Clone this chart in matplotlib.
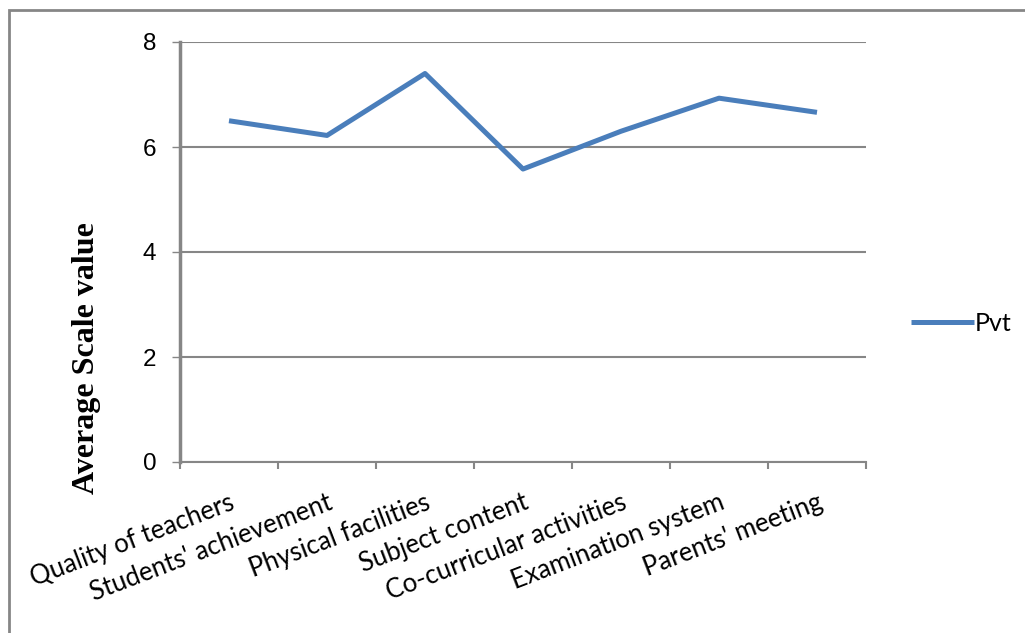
"""
Average scale value by school aspect, private schools (Pvt)
"""
import matplotlib
matplotlib.use("Agg")
import matplotlib.pyplot as plt
from matplotlib.patches import Rectangle


# Data
aspects = ["Quality of teachers", "Students' achievement", "Physical facilities",
           "Subject content", "Co-curricular activities", "Examination system",
           "Parents' meeting"]
pvt = [6.50, 6.22, 7.40, 5.58, 6.30, 6.93, 6.66]
y_ticks = [0, 2, 4, 6, 8]

# Settings
grey = "#868686"
blue = "#4a7ebb"


def plot_chart():
    fig = plt.figure(figsize=(10.25, 6.33), dpi=100)
    ax = fig.add_axes([180 / 1025, 171 / 633, 686 / 1025, 420 / 633])

    x = list(range(len(aspects)))
    ax.plot(x, pvt, color=blue, lw=3.6, solid_capstyle="butt", label="Pvt", zorder=3)

    # Axes and grid
    ax.set_xlim(-0.5, len(aspects) - 0.5)
    ax.set_ylim(0, 8)
    ax.set_yticks(y_ticks)
    ax.set_yticklabels([str(t) for t in y_ticks], fontsize=17.5, family="Liberation Sans")
    ax.yaxis.grid(True, color=grey, lw=1.5)
    ax.set_axisbelow(True)
    for side in ["top", "right"]:
        ax.spines[side].set_visible(False)
    ax.spines["left"].set_color(grey)
    ax.spines["left"].set_linewidth(2.5)
    ax.spines["bottom"].set_color(grey)
    ax.spines["bottom"].set_linewidth(1.5)
    ax.tick_params(axis="y", direction="out", length=6, width=1, color=grey, pad=11)

    # Category boundaries as ticks, labels at centres
    ax.set_xticks([i - 0.5 for i in range(len(aspects) + 1)], minor=True)
    ax.set_xticks(x)
    ax.set_xticklabels(aspects, rotation=21, ha="right", va="top",
                       rotation_mode="anchor", fontsize=18.5, family="Lato")
    ax.tick_params(axis="x", which="major", length=0, pad=20)
    ax.tick_params(axis="x", which="minor", direction="out", length=5, width=1.5, color=grey)

    ax.set_ylabel("Average Scale value", fontsize=23, fontweight="bold",
                  family="Liberation Serif", va="center")
    ax.yaxis.set_label_coords(-0.136, 0.248)

    ax.legend(loc="center left", bbox_to_anchor=(1.033, 0.33), frameon=False,
              prop={"family": "Lato", "size": 18}, handlelength=2.5,
              handletextpad=0.05)

    # Chart frame
    fig.patches.append(Rectangle((9 / 1025, -0.1), 1.2, 1.1 - 10 / 633,
                                 transform=fig.transFigure, fill=False,
                                 edgecolor=grey, lw=2))

    fig.savefig("out.png", dpi=100)
    plt.close(fig)


def main():
    plot_chart()


if __name__ == "__main__":
    main()
